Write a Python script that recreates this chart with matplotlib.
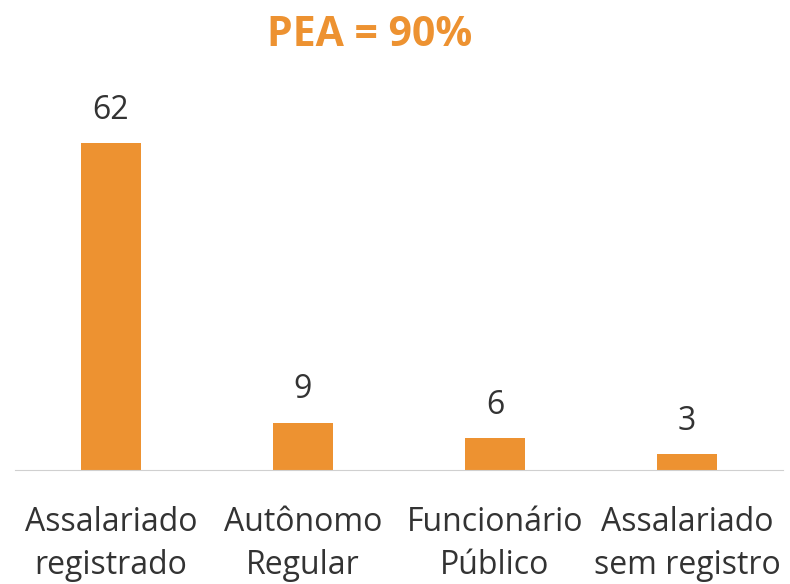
import matplotlib.pyplot as plt

# dados
categorias = ['Assalariado\nregistrado', 'Autônomo\nRegular', 'Funcionário\nPúblico', 'Assalariado\nsem registro']
valores = [62, 9, 6, 3]
titulo = 'PEA = 90%'

cor = '#ED9231'
plt.rcParams['font.family'] = ['Open Sans', 'DejaVu Sans']

fig = plt.figure(figsize=(7.9, 5.84), dpi=100)
ax = fig.add_axes([0.019, 0.1952, 0.972, 0.632])

x = range(len(valores))
barras = ax.bar(x, valores, width=0.31, color=cor)
for b, v in zip(barras, valores):
    ax.text(b.get_x() + b.get_width() / 2, v + 6.2, str(v),
            ha='center', va='center', fontsize=23, color='#333333')

ax.set_xlim(-0.5, 3.5)
ax.set_ylim(0, 70)
ax.set_xticks(list(x))
ax.set_xticklabels(categorias, fontsize=23, color='#333333', linespacing=1.4)
ax.tick_params(axis='x', length=0, pad=26)
ax.set_yticks([])
for s in ['top', 'right', 'left']:
    ax.spines[s].set_visible(False)
ax.spines['bottom'].set_color('#D0D0D0')

fig.text(0.468, 0.94, titulo, ha='center', va='center', fontsize=29.5,
         fontweight='bold', color=cor)

fig.savefig('out.png', dpi=100)
